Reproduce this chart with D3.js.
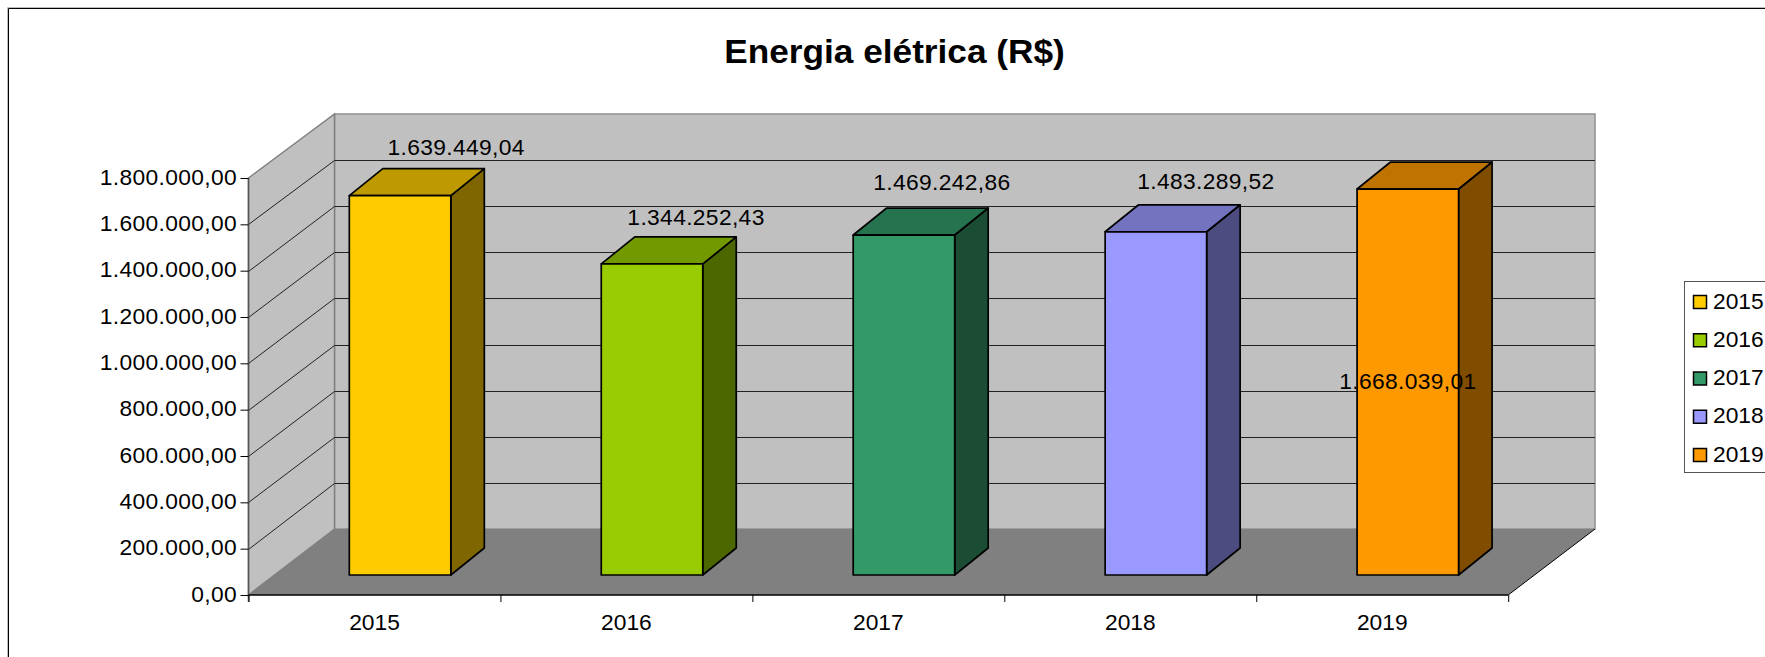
<!DOCTYPE html>
<html><head><meta charset="utf-8">
<script src="https://cdn.jsdelivr.net/npm/d3@7"></script>
<style>html,body{margin:0;padding:0;background:#fff;overflow:hidden}svg{display:block}text{font-family:"Liberation Sans",Arial,sans-serif;fill:#000}</style>
</head><body><svg id="c" width="1765" height="657"></svg>
<script>
const categories = ["2015","2016","2017","2018","2019"];
const values = [1639449.04,1344252.43,1469242.86,1483289.52,1668039.01];
const valueLabels = ["1.639.449,04","1.344.252,43","1.469.242,86","1.483.289,52","1.668.039,01"];
const frontColors = ["#FFCC00","#99CC00","#339966","#9999FF","#FF9900"];
const topColors = ["#BF9900","#739900","#267350","#7373BF","#BF7300"];
const sideColors = ["#7F6600","#4C6600","#1A4D33","#4C4C80","#7F4C00"];
const yTickValues = d3.range(0,1800001,200000);
const labelDx = [56,44,38,50,0];
const labelDy = [-13.5,-11.5,-17.7,-15.5,226.5];
const fmt = v => d3.formatLocale({decimal:",",thousands:".",grouping:[3],currency:["",""]}).format(",.2f")(v);

const X0=248.5,X1=1508.2,Y0=595,Y1=178,DX=86,BACK_RIGHT=1595,BACK_BOTTOM=529,BACK_TOP=114;
const BAR_W=101.5, BAR_BASE=575, BAR_DX=33.5, BAR_DY=-27;
const FS=21.5, SX=1.06, LS=0.34;
const svg=d3.select("#c");
const x=d3.scaleBand().domain(categories).range([X0,X1]);
const y=d3.scaleLinear().domain([0,1800000]).range([Y0,Y1]);
const yBack=d3.scaleLinear().domain([0,1800000]).range([BACK_BOTTOM,BACK_TOP]);
const yBar=d3.scaleLinear().domain([0,1800000]).range([BAR_BASE,BAR_BASE-416.5]);
const pts=a=>a.map(p=>p.join(",")).join(" ");
const stretched=(sel,px,py)=>sel.attr("transform",`translate(${px},${py}) scale(${SX},1)`);

// chart frame (open on the right and at the bottom)
svg.append("path").attr("d","M7.5,700V7.5H1800").attr("fill","none").attr("stroke","#bbb").attr("stroke-width",1);
svg.append("path").attr("d","M8.5,700V8.5H1800").attr("fill","none").attr("stroke","#000").attr("stroke-width",1);

// title
svg.append("text").attr("text-anchor","middle").attr("font-weight","bold").attr("font-size",34).attr("transform","translate(894.5,63) scale(1.036,1)").text("Energia elétrica (R$)");

// walls and floor
svg.append("polygon").attr("points",pts([[X0+DX,BACK_TOP],[BACK_RIGHT,BACK_TOP],[BACK_RIGHT,BACK_BOTTOM],[X0+DX,BACK_BOTTOM]])).attr("fill","#C0C0C0").attr("stroke","#909090").attr("stroke-width",1.5);
svg.append("polygon").attr("points",pts([[X0,Y1],[X0+DX,BACK_TOP],[X0+DX,BACK_BOTTOM],[X0,Y0]])).attr("fill","#C0C0C0").attr("stroke","#808080").attr("stroke-width",1.5);
svg.append("polygon").attr("points",pts([[X0,Y0],[X0+DX,BACK_BOTTOM],[BACK_RIGHT,BACK_BOTTOM],[X1,Y0]])).attr("fill","#808080");

// gridlines
const grid=yTickValues.slice(1,-1);
svg.append("g").selectAll("path").data(grid).join("path")
 .attr("d",d=>`M${X0},${Math.round(y(d))+.5}L${X0+DX},${Math.round(yBack(d))+.5}H${BACK_RIGHT}`)
 .attr("fill","none").attr("stroke","#222").attr("stroke-width",1);
svg.append("path").attr("d",`M${X1},${Y0}L${BACK_RIGHT},${BACK_BOTTOM}`).attr("stroke","#000").attr("stroke-width",1);

// bars
const bars=svg.append("g").attr("stroke","#000").attr("stroke-width",1.7).attr("stroke-linejoin","round").selectAll("g").data(categories).join("g");
const L=d=>x(d)+x.bandwidth()/2+25.6-BAR_W/2;
const R=d=>L(d)+BAR_W;
const val=(d,i)=>yBar(values[i]);
bars.append("polygon").attr("fill",(d,i)=>sideColors[i]).attr("points",(d,i)=>pts([[R(d),val(d,i)],[R(d)+BAR_DX,val(d,i)+BAR_DY],[R(d)+BAR_DX,BAR_BASE+BAR_DY],[R(d),BAR_BASE]]));
bars.append("polygon").attr("fill",(d,i)=>topColors[i]).attr("points",(d,i)=>pts([[L(d),val(d,i)],[L(d)+BAR_DX,val(d,i)+BAR_DY],[R(d)+BAR_DX,val(d,i)+BAR_DY],[R(d),val(d,i)]]));
bars.append("rect").attr("fill",(d,i)=>frontColors[i]).attr("x",L).attr("y",val).attr("width",BAR_W).attr("height",(d,i)=>BAR_BASE-val(d,i));

// axes
const yAxis=svg.append("g").attr("transform",`translate(${X0},0)`).call(d3.axisLeft(y).tickValues(yTickValues).tickFormat(fmt).tickSize(8).tickPadding(3));
yAxis.select(".domain").attr("d",`M0,${Y1}V${Y0+7}`).attr("stroke","#555").attr("stroke-width",1.5);
yAxis.selectAll("text").remove();
svg.append("g").selectAll("text").data(yTickValues).join("text").attr("text-anchor","end").attr("font-size",FS).attr("letter-spacing",LS)
 .text(fmt).each(function(d){stretched(d3.select(this),237,y(d)+6.8);});

const edges=d3.scaleLinear().domain([0,categories.length]).range([X0,X1]);
const xAxis=svg.append("g").attr("transform",`translate(0,${Y0})`).call(d3.axisBottom(edges).ticks(5).tickSize(7).tickFormat(""));
xAxis.select(".domain").attr("d",`M${X0},0H${X1}`).attr("stroke","#000").attr("stroke-width",1.5);
svg.append("g").selectAll("text").data(categories).join("text").attr("text-anchor","middle").attr("font-size",FS)
 .text(d=>d).each(function(d){stretched(d3.select(this),x(d)+x.bandwidth()/2,630);});

// data labels
svg.append("g").selectAll("text").data(categories).join("text").attr("text-anchor","middle").attr("font-size",FS).attr("letter-spacing",LS)
 .text((d,i)=>valueLabels[i]).each(function(d,i){stretched(d3.select(this),(L(d)+R(d))/2+labelDx[i],val(d,i)+BAR_DY+labelDy[i]);});

// legend
svg.append("rect").attr("x",1684.5).attr("y",281.5).attr("width",120).attr("height",191).attr("fill","#fff").attr("stroke","#555").attr("stroke-width",1);
const legendY=d3.scalePoint().domain(categories).range([302,455]);
const lg=svg.append("g").selectAll("g").data(categories).join("g");
lg.append("rect").attr("x",1693.5).attr("y",d=>legendY(d)-6.5).attr("width",13).attr("height",13).attr("fill",(d,i)=>frontColors[i]).attr("stroke","#000").attr("stroke-width",1.5);
lg.append("text").attr("font-size",FS).text(d=>d).each(function(d){stretched(d3.select(this),1713,legendY(d)+6.5);});
</script></body></html>
